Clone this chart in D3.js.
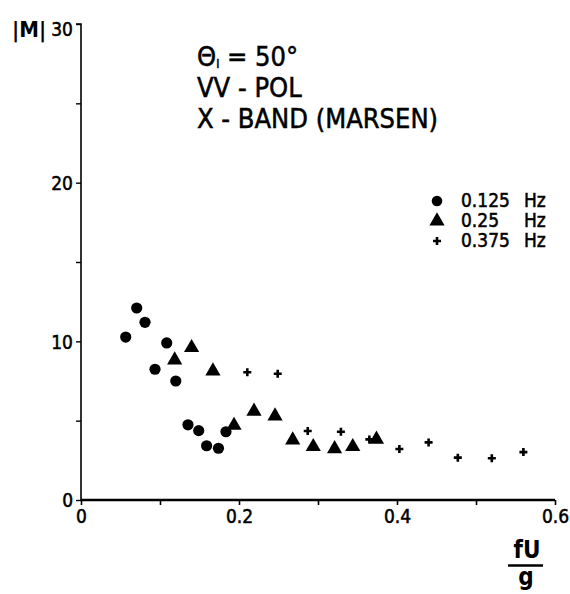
<!DOCTYPE html>
<html><head><meta charset="utf-8">
<script src="https://cdn.jsdelivr.net/npm/d3@7"></script>
<style>
body{margin:0;background:#fff;}
text{font-family:"DejaVu Sans Condensed","DejaVu Sans",sans-serif;fill:#000;}
</style></head>
<body><svg id="c" width="570" height="594"></svg>
<script>
// Data (fU/g, |M|)
const circles125 = [[0.0566,10.27],[0.0705,12.1],[0.081,11.2],[0.0937,8.24],[0.1085,9.9],[0.120,7.5],[0.1354,4.74],[0.149,4.37],[0.159,3.42],[0.174,3.26],[0.1835,4.30]];
const triangles25 = [[0.1186,8.82],[0.140,9.6],[0.167,8.13],[0.1937,4.7],[0.219,5.59],[0.2456,5.29],[0.268,3.78],[0.294,3.36],[0.321,3.23],[0.344,3.36],[0.374,3.82]];
const crosses375 = [[0.2105,8.05],[0.249,7.96],[0.287,4.35],[0.329,4.30],[0.365,3.82],[0.403,3.21],[0.440,3.63],[0.477,2.67],[0.520,2.63],[0.560,3.02]];
const xTicks = [0,0.1,0.2,0.3,0.4,0.5,0.6];
const xTickLabels = ["0","","0.2","","0.4","","0.6"];
const yTicks = [0,5,10,15,20,25,30];
const yTickLabels = ["0","","10","","20","","30"];
const legendLabels = ["0.125","0.25","0.375"];
const titleLines = ["VV - POL","X - BAND (MARSEN)"];

const svg = d3.select("#c");
const x = d3.scaleLinear().domain([0,0.6]).range([81,555]);
const y = d3.scaleLinear().domain([0,30]).range([500,24]);
const thick = sel => sel.attr("stroke","#000").attr("stroke-width",0.5);

// y axis
const yAxis = d3.axisLeft(y).tickValues(yTicks).tickFormat((d,i)=>yTickLabels[i]).tickSize(5).tickPadding(3);
const gy = svg.append("g").attr("transform","translate(81,0)").call(yAxis);
gy.select(".domain").attr("d","M-5,24H0V500").attr("stroke","#000").attr("stroke-width",1.6).attr("fill","none");
gy.selectAll(".tick line").attr("stroke-width",1.4);
gy.selectAll(".tick text").attr("font-size",19).attr("dy",(d)=>d===30?"0.6em":"0.36em")
  .attr("font-family","DejaVu Sans Condensed, DejaVu Sans, sans-serif").call(thick);

// x axis
const xAxis = d3.axisBottom(x).tickValues(xTicks).tickFormat((d,i)=>xTickLabels[i]).tickSize(5).tickPadding(5);
const gx = svg.append("g").attr("transform","translate(0,500)").call(xAxis);
gx.select(".domain").attr("d","M81,0H555").attr("stroke","#000").attr("stroke-width",2.4);
gx.selectAll(".tick line").attr("stroke-width",1.6);
gx.selectAll(".tick text").attr("font-size",19).attr("font-family","DejaVu Sans Condensed, DejaVu Sans, sans-serif").call(thick);

// axis titles
svg.append("text").attr("x",12).attr("y",37).attr("font-size",22).attr("font-weight","bold").text("|M|");
const xl = svg.append("g");
xl.append("text").attr("x",527).attr("y",558).attr("text-anchor","middle").attr("font-size",24).attr("font-weight","bold").text("fU");
xl.append("line").attr("x1",508).attr("x2",543).attr("y1",565.5).attr("y2",565.5).attr("stroke","#000").attr("stroke-width",2.5);
xl.append("text").attr("x",526).attr("y",585).attr("text-anchor","middle").attr("font-size",24).attr("font-weight","bold").text("g");

// annotation
const t1 = svg.append("text").attr("x",197).attr("y",66).attr("font-size",27).call(thick);
t1.append("tspan").text("\u0398");
t1.append("tspan").attr("font-size",12).attr("dy",2).text("I");
t1.append("tspan").attr("dy",-2).text(" = 50\u00B0");
titleLines.forEach((s,i)=>{
  svg.append("text").attr("x",197).attr("y",97+i*31).attr("font-size",27).text(s).call(thick);
});

// marks
const tri = d3.symbol().type(d3.symbolTriangle).size(100);
svg.append("g").selectAll("circle").data(circles125).join("circle")
  .attr("cx",d=>x(d[0])).attr("cy",d=>y(d[1])).attr("r",5.6).attr("fill","#000");
svg.append("g").selectAll("path").data(triangles25).join("path")
  .attr("d",tri).attr("transform",d=>`translate(${x(d[0])},${y(d[1])})`).attr("fill","#000");
const cross = "M-4,0H4M0,-4V4";
svg.append("g").selectAll("path").data(crosses375).join("path")
  .attr("d",cross).attr("transform",d=>`translate(${x(d[0])},${y(d[1])})`).attr("stroke","#000").attr("stroke-width",2.6);

// legend
const lg = svg.append("g");
const ly = [201,221,241];
lg.append("circle").attr("cx",437).attr("cy",ly[0]).attr("r",5.3).attr("fill","#000");
lg.append("path").attr("d",tri).attr("transform",`translate(437,${ly[1]})`).attr("fill","#000");
lg.append("path").attr("d",cross).attr("transform",`translate(437,${ly[2]})`).attr("stroke","#000").attr("stroke-width",2.6);
legendLabels.forEach((s,i)=>{
  lg.append("text").attr("x",461).attr("y",ly[i]+6).attr("font-size",19).text(s).call(thick);
  lg.append("text").attr("x",524).attr("y",ly[i]+6).attr("font-size",19).text("Hz").call(thick);
});
</script></body></html>
